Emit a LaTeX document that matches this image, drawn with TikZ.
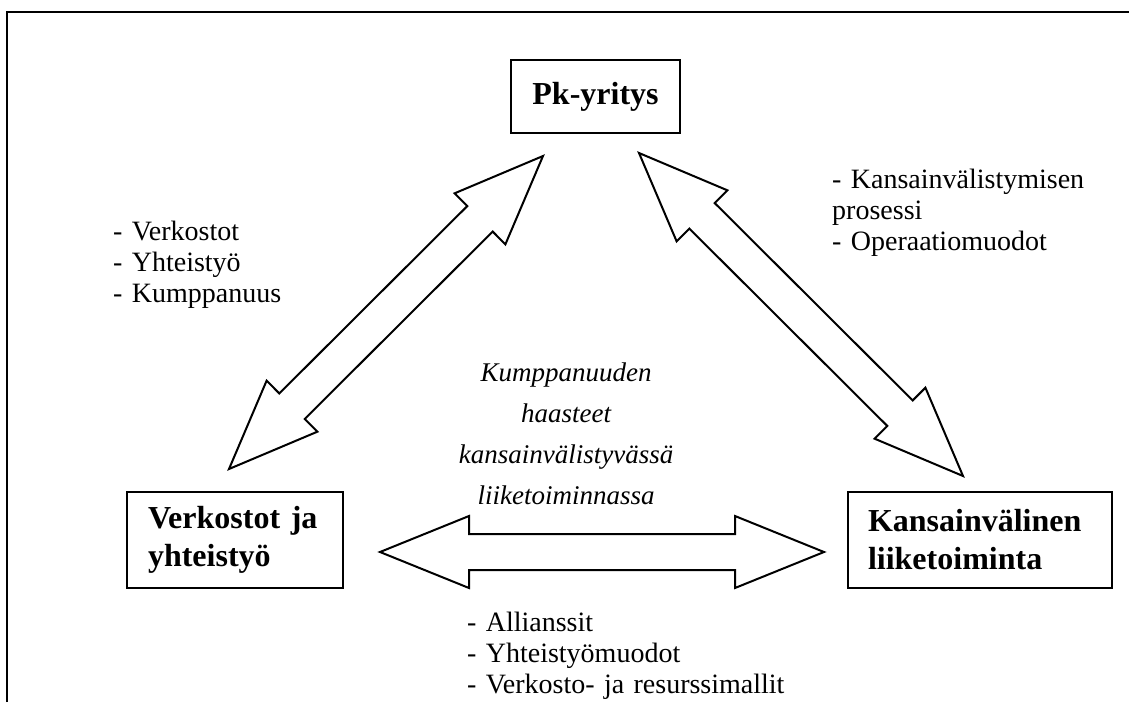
\documentclass[tikz,border=0pt]{standalone}
\usepackage{fontspec}
\setmainfont{Liberation Serif}
\usetikzlibrary{calc}
\newcommand\bigdblarrow[2]{%
  \draw[fatarrow] (#1)
    -- ($(#1)!89pt!(#2)!36pt!90:(#2)$)
    -- ($(#1)!89pt!(#2)!18pt!90:(#2)$)
    -- ($(#2)!89pt!(#1)!18pt!-90:(#1)$)
    -- ($(#2)!89pt!(#1)!36pt!-90:(#1)$)
    -- (#2)
    -- ($(#2)!89pt!(#1)!36pt!90:(#1)$)
    -- ($(#2)!89pt!(#1)!18pt!90:(#1)$)
    -- ($(#1)!89pt!(#2)!18pt!-90:(#2)$)
    -- ($(#1)!89pt!(#2)!36pt!-90:(#2)$)
    -- cycle;}
\begin{document}
\begin{tikzpicture}[x=1pt,y=-1pt,line join=miter,
  box/.style={draw,line width=2pt,align=left,inner ysep=0pt,
    font=\fontsize{32}{38}\selectfont\bfseries},
  lbl/.style={align=left,inner sep=0pt,anchor=base west,
    font=\fontsize{28}{31}\selectfont},
  centre/.style={align=center,inner sep=0pt,anchor=base,text width=320pt,
    font=\fontsize{27}{41}\selectfont\itshape},
  fatarrow/.style={draw,line width=2pt},
  frame/.style={line width=2.5pt}]
\useasboundingbox (0,0) rectangle (1129,702);
% outer frame (open at right and bottom)
\coordinate (fb) at (7,702);
\coordinate (ftl) at (7,12);
\coordinate (ftr) at (1129,12);
\draw[frame] (fb) -- (ftl) -- (ftr);
% boxes
\node[box,minimum width=169pt,minimum height=73pt,inner xsep=21pt] (pk) at (595.5,96.5) {Pk-yritys};
\node[box,minimum height=96pt,inner xsep=21pt,text width=174pt] (verk) at (235,540) {Verkostot ja\\yhteistyö};
\node[box,minimum height=96pt,inner xsep=20pt,text width=224pt] (kans) at (980,540) {Kansainvälinen\\liiketoiminta};
% arrow ends
\coordinate (a1) at (229,469);
\coordinate (b1) at (543,156);
\coordinate (a2) at (639,153);
\coordinate (b2) at (963,476);
\coordinate (a3) at (380,552);
\coordinate (b3) at (824,552);
\bigdblarrow{a1}{b1}
\bigdblarrow{a2}{b2}
\bigdblarrow{a3}{b3}
% labels
\node[lbl,text width=200pt] (lleft) at (113,240) {- Verkostot\\- Yhteistyö\\- Kumppanuus};
\node[lbl,text width=290pt] (lright) at (832,188) {- Kansainvälistymisen\\prosessi\\- Operaatiomuodot};
\node[lbl,text width=340pt] (lbottom) at (467,631) {- Allianssit\\- Yhteistyömuodot\\- Verkosto- ja resurssimallit};
\node[centre] (mid) at (566,381) {Kumppanuuden\\haasteet\\kansainvälistyvässä\\liiketoiminnassa};
\end{tikzpicture}
\end{document}
